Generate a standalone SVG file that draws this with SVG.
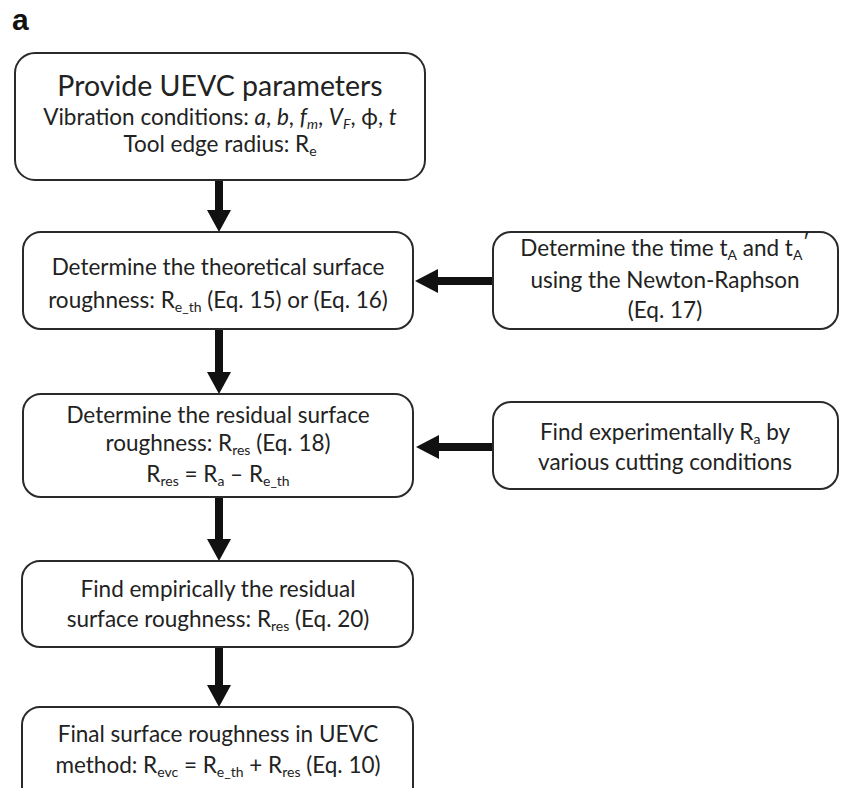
<svg xmlns="http://www.w3.org/2000/svg" width="844" height="788" viewBox="0 0 844 788">
<defs>
<style>
.box{fill:#fff;stroke:#2a2a2a;stroke-width:2}
.t{font-family:Lato,"Open Sans","Liberation Sans",sans-serif;font-size:22.5px;fill:#222;text-anchor:middle}
.title{font-size:28.5px}
.s{font-size:14px}
.i{font-style:italic}
.lbl{font-family:"Liberation Sans",Arial,sans-serif;font-weight:bold;font-size:30px;fill:#111}
.ar{stroke:#111;stroke-width:8;fill:none}
.hd{fill:#111}
</style>
</defs>
<rect width="844" height="788" fill="#fff"/>
<text class="lbl" x="12" y="30">a</text>

<g id="connectors">
  <line class="ar" x1="219" y1="180" x2="219" y2="212"/>
  <polygon class="hd" points="207,210 231,210 219,232"/>
  <line class="ar" x1="219" y1="329" x2="219" y2="374"/>
  <polygon class="hd" points="207,372 231,372 219,394"/>
  <line class="ar" x1="219" y1="497" x2="219" y2="541"/>
  <polygon class="hd" points="207,539 231,539 219,561"/>
  <line class="ar" x1="219" y1="647" x2="219" y2="687"/>
  <polygon class="hd" points="207,685 231,685 219,707"/>
  <line class="ar" x1="493" y1="281" x2="436" y2="281"/>
  <polygon class="hd" points="438,269 438,293 415,281"/>
  <line class="ar" x1="493" y1="447" x2="437" y2="447"/>
  <polygon class="hd" points="439,435 439,459 416,447"/>
</g>

<g id="n1">
  <rect class="box" x="15" y="53" width="410" height="127" rx="20"/>
  <text class="t title" x="220" y="96">Provide UEVC parameters</text>
  <text class="t" x="220" y="125">Vibration conditions: <tspan class="i">a</tspan>, <tspan class="i">b</tspan>, <tspan class="i">f</tspan><tspan class="s i" dy="4">m</tspan><tspan dy="-4">, </tspan><tspan class="i">V</tspan><tspan class="s i" dy="4">F</tspan><tspan dy="-4">, ϕ, </tspan><tspan class="i">t</tspan></text>
  <text class="t" x="220" y="152">Tool edge radius: R<tspan class="s" dy="4">e</tspan></text>
</g>

<g id="n2">
  <rect class="box" x="23" y="232" width="390" height="97" rx="18"/>
  <text class="t" x="218" y="275">Determine the theoretical surface</text>
  <text class="t" x="218" y="308">roughness: R<tspan class="s" dy="4">e_th</tspan><tspan dy="-4"> (Eq. 15) or (Eq. 16)</tspan></text>
</g>

<g id="n3">
  <rect class="box" x="493" y="232" width="345" height="97" rx="18"/>
  <text class="t" x="665" y="256">Determine the time t<tspan class="s" dy="4">A</tspan><tspan dy="-4"> and t</tspan><tspan class="s" dy="4">A</tspan><tspan dy="-10">′</tspan></text>
  <text class="t" x="665" y="288">using the Newton-Raphson</text>
  <text class="t" x="665" y="318">(Eq. 17)</text>
</g>

<g id="n4">
  <rect class="box" x="23" y="394" width="390" height="103" rx="18"/>
  <text class="t" x="218" y="423">Determine the residual surface</text>
  <text class="t" x="218" y="451">roughness: R<tspan class="s" dy="4">res</tspan><tspan dy="-4"> (Eq. 18)</tspan></text>
  <text class="t" x="218" y="482">R<tspan class="s" dy="4">res</tspan><tspan dy="-4"> = R</tspan><tspan class="s" dy="4">a</tspan><tspan dy="-4"> – R</tspan><tspan class="s" dy="4">e_th</tspan></text>
</g>

<g id="n5">
  <rect class="box" x="493" y="402" width="345" height="87" rx="18"/>
  <text class="t" x="665" y="440">Find experimentally R<tspan class="s" dy="4">a</tspan><tspan dy="-4"> by</tspan></text>
  <text class="t" x="665" y="470">various cutting conditions</text>
</g>

<g id="n6">
  <rect class="box" x="22" y="561" width="391" height="86" rx="18"/>
  <text class="t" x="218" y="597">Find empirically the residual</text>
  <text class="t" x="218" y="627">surface roughness: R<tspan class="s" dy="4">res</tspan><tspan dy="-4"> (Eq. 20)</tspan></text>
</g>

<g id="n7">
  <rect class="box" x="22" y="707" width="391" height="100" rx="18"/>
  <text class="t" x="218" y="742">Final surface roughness in UEVC</text>
  <text class="t" x="218" y="773">method: R<tspan class="s" dy="4">evc</tspan><tspan dy="-4"> = R</tspan><tspan class="s" dy="4">e_th</tspan><tspan dy="-4"> + R</tspan><tspan class="s" dy="4">res</tspan><tspan dy="-4"> (Eq. 10)</tspan></text>
</g>
</svg>
